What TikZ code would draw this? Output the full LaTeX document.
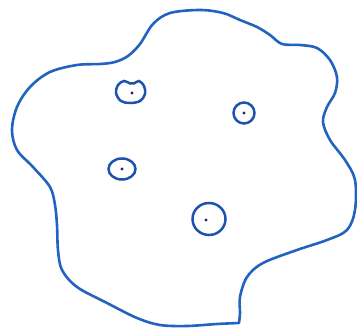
\documentclass[tikz,border=0pt]{standalone}
\definecolor{ink}{RGB}{34,98,192}
\definecolor{cellink}{RGB}{30,82,176}
\definecolor{dotink}{RGB}{30,40,110}
\begin{document}
\begin{tikzpicture}[x=1pt,y=-1pt,
  pen/.style={draw=ink,line width=2.6pt,line join=round,line cap=round},
  cell/.style={draw=cellink,line width=2.5pt},
  nucleus/.style={fill=dotink}]
\useasboundingbox (0,0) rectangle (357,329);
% outline blob
\draw[pen] plot[smooth,tension=0.55] coordinates {
(239,323) (217,324) (187,326) (160,325) (137,318) (107,303) (77,287)
(62,270) (58,250) (57,225) (55,205) (50,187) (33,167) (17,150) (12,130)
(17,107) (30,87) (50,72) (77,65) (100,64) (115,62) (128,56) (140,44)
(153,24) (170,13) (200,10) (223,13) (240,20) (257,27) (270,35) (282,44)
(300,45) (317,48) (330,60) (337,77) (335,93) (327,107) (323,122) (330,140)
(345,160) (355,180) (355,210) (347,230) (327,240) (297,250) (263,263)
(247,277) (240,297) (240,313) (239,323)};
% cell A (notched top)
\draw[cell] plot[smooth cycle,tension=0.6] coordinates {
(116,93) (118,85) (124,81) (130,83.5) (134,83.5) (139,81) (144,86) (145,94)
(140,101) (130,103) (121,101)};
\fill[nucleus] (132,93) circle (1.7);
% cell B
\draw[cell] (244,113) ellipse (10.5 and 10.5);
\fill[nucleus] (244,113) circle (1.7);
% cell C
\draw[cell] (122,169) ellipse (13.5 and 10.5);
\fill[nucleus] (122,169) circle (1.7);
% cell D
\draw[cell] (209,219) ellipse (16.5 and 16);
\fill[nucleus] (206,220) circle (1.7);
\end{tikzpicture}
\end{document}
